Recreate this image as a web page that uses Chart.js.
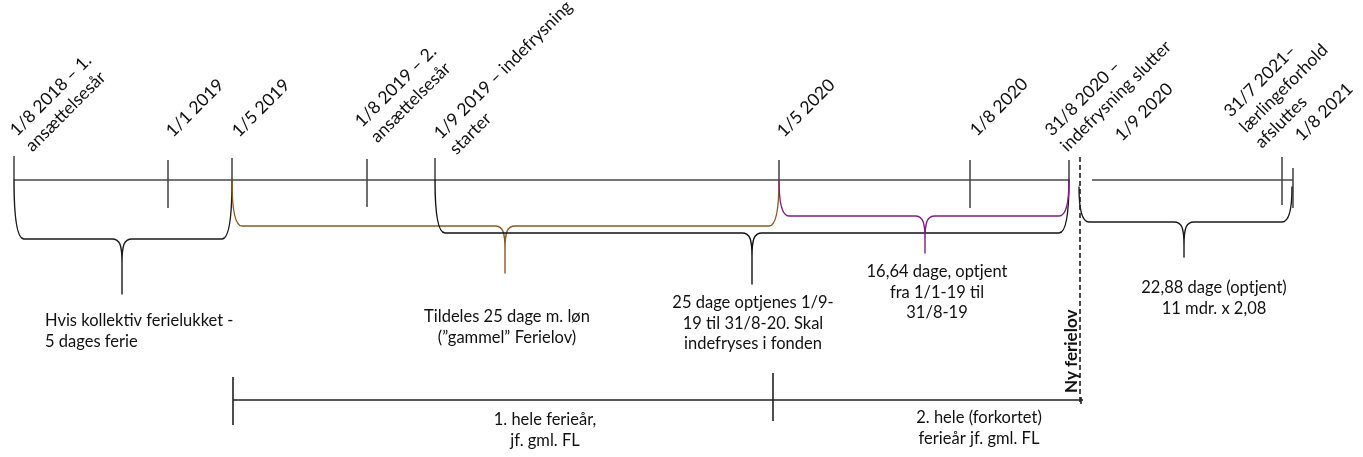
<!DOCTYPE html>
<html><head><meta charset="utf-8">
<script src="https://cdn.jsdelivr.net/npm/chart.js@4"></script>
<style>html,body{margin:0;padding:0;background:#fff;overflow:hidden}#c{display:block}</style>
</head><body>
<canvas id="c" width="1363" height="457"></canvas>
<script>
// ---- DATA (diagram units: x = position along the timeline, y = row level) ----
const markLabels = ['1/8 2018 – 1.\nansættelsesår','1/1 2019','1/5 2019','1/8 2019 – 2.\nansættelsesår',
  '1/9 2019 – indefrysning\nstarter','1/5 2020','1/8 2020','31/8 2020 –\nindefrysning slutter','1/9 2020',
  '31/7 2021–\nlærlingeforhold\nafsluttes','1/8 2021'];
const markLabelX = [17,173,239,362,441,784,977,1052,1122,1231,1302];
const markLabelY = [137,138,138,128,140,138,137,137,142,118,142];

const mainLineFrom = [14,1092];
const mainLineTo   = [1069,1293];
const mainLineLevel = 180;

const tickPos    = [14,168,232,367,435,779,970,1069,1282,1293];
const tickTop    = [156,160,158,159,158,160,160,160,157,168];
const tickBottom = [180,208,180,207,180,180,208,180,205,208];

const braceFrom  = [14,232,435,779,1079];
const braceTo    = [232,779,1069,1069,1292];
const braceTip   = [122,505,752,925,1184];
const braceTop   = [180,180,180,180,187];
const braceFlat  = [239,226,233,216,222];
const braceTipY  = [294,273,284,253,257];
const braceColor = ['#1a1a1a','#8a5a22','#111111','#7f1f84','#1a1a1a'];

const noteText = ['Hvis kollektiv ferielukket -\n5 dages ferie','Tildeles 25 dage m. løn\n(”gammel” Ferielov)',
  '25 dage optjenes 1/9-\n19 til 31/8-20. Skal\nindefryses i fonden','16,64 dage, optjent\nfra 1/1-19 til\n31/8-19',
  '22,88 dage (optjent)\n11 mdr. x 2,08','1. hele ferieår,\njf. gml. FL','2. hele (forkortet)\nferieår jf. gml. FL'];
const noteX = [45,507,753,937,1214,545,979];
const noteY = [326,322,308,277,293,425,423];
const noteAlign = ['left','center','center','center','center','center','center'];

const periodFrom = [233,773];
const periodTo   = [773,1083];
const periodLevel = 400;
const periodTickPos = [233,773,1081];
const periodTickTop = [377,373,397];
const periodTickBottom = [425,421,404];

const newLawPos = 1080;
const newLawFrom = 157, newLawTo = 403;
const newLawLabel = 'Ny ferielov';

// ---- build line datasets from arrays (null breaks segments) ----
function segs(from, to, lvlFrom, lvlTo){
  const pts=[];
  from.forEach((f,i)=>{
    if(lvlTo===undefined){ pts.push({x:f,y:lvlFrom},{x:to[i],y:lvlFrom}); }
    else { pts.push({x:f,y:lvlFrom[i]},{x:f,y:lvlTo[i]}); }
    pts.push({x:f,y:null});
  });
  return pts;
}
const ds = (data,color,w,dash)=>({data,showLine:true,borderColor:color,borderWidth:w,borderDash:dash||[],
  pointRadius:0,spanGaps:false,fill:false,tension:0});

const FONT='Lato, "Open Sans", sans-serif';
const diagram = {
  id:'diagram',
  afterDatasetsDraw(chart){
    const {ctx, scales:{x,y}} = chart;
    const px=v=>x.getPixelForValue(v), py=v=>y.getPixelForValue(v);
    ctx.save();
    ctx.lineWidth=1.4; ctx.lineCap='round'; ctx.lineJoin='round';
    braceFrom.forEach((f,i)=>{
      const X0=px(f), X1=px(braceTo[i]), TX=px(braceTip[i]);
      const T=py(braceTop[i]), F=py(braceFlat[i]), TY=py(braceTipY[i]);
      const r=10, rt=10, dv=Math.min(24,TY-F);
      ctx.strokeStyle=braceColor[i];
      ctx.beginPath();
      ctx.moveTo(X0,T); ctx.quadraticCurveTo(X0,F,X0+r,F); ctx.lineTo(TX-rt,F);
      ctx.bezierCurveTo(TX-2,F,TX,F+6,TX,F+dv); ctx.lineTo(TX,TY);
      ctx.moveTo(X1,T); ctx.quadraticCurveTo(X1,F,X1-r,F); ctx.lineTo(TX+rt,F);
      ctx.bezierCurveTo(TX+2,F,TX,F+6,TX,F+dv); ctx.lineTo(TX,TY);
      ctx.stroke();
    });
    ctx.fillStyle='#111'; ctx.textBaseline='alphabetic';
    ctx.font='17.5px '+FONT; ctx.textAlign='left';
    markLabels.forEach((t,i)=>{
      ctx.save(); ctx.translate(px(markLabelX[i]),py(markLabelY[i])); ctx.rotate(-Math.PI/4);
      t.split('\n').forEach((ln,j)=>ctx.fillText(ln,0,j*22)); ctx.restore();
    });
    ctx.font='16.5px '+FONT;
    noteText.forEach((t,i)=>{
      ctx.textAlign=noteAlign[i];
      t.split('\n').forEach((ln,j)=>ctx.fillText(ln,px(noteX[i]),py(noteY[i])+j*20.7));
    });
    ctx.save(); ctx.font='bold 17px '+FONT; ctx.textAlign='left';
    ctx.translate(px(newLawPos)-3,py(393)); ctx.rotate(-Math.PI/2); ctx.fillText(newLawLabel,0,0); ctx.restore();
    ctx.restore();
  }
};

function draw(){
  new Chart(document.getElementById('c'),{
    type:'scatter',
    data:{datasets:[
      ds(segs(mainLineFrom,mainLineTo,mainLineLevel),'#4a4a4a',1.4),
      ds(segs(tickPos,null,tickTop,tickBottom),'#333',1.4),
      ds(segs(periodFrom,periodTo,periodLevel),'#222',1.6),
      ds(segs(periodTickPos,null,periodTickTop,periodTickBottom),'#222',1.6),
      ds([{x:newLawPos,y:newLawFrom},{x:newLawPos,y:newLawTo}],'#111',1.5,[5,3])
    ]},
    options:{responsive:false,animation:false,devicePixelRatio:1,
      layout:{padding:0},
      plugins:{legend:{display:false},tooltip:{enabled:false}},
      scales:{x:{type:'linear',min:0,max:1363,display:false},
              y:{type:'linear',min:0,max:457,reverse:true,display:false}}},
    plugins:[diagram]
  });
}
(document.fonts && document.fonts.load ? Promise.all([document.fonts.load('18px Lato'),document.fonts.load('bold 17px Lato')]) : Promise.resolve()).then(draw,draw);
</script>
</body></html>
